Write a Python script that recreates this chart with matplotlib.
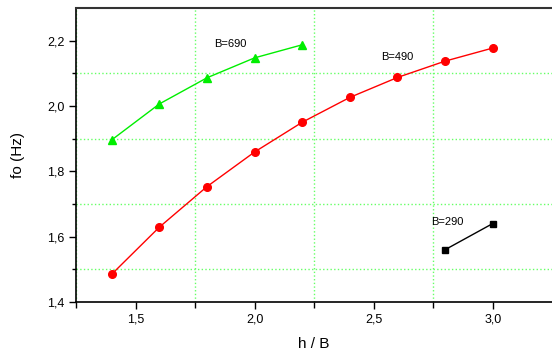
import matplotlib.pyplot as plt
from matplotlib.ticker import MultipleLocator, FuncFormatter

# series
hb_690 = [1.4, 1.6, 1.8, 2.0, 2.2]
fo_690 = [1.896, 2.006, 2.086, 2.147, 2.187]

hb_490 = [1.4, 1.6, 1.8, 2.0, 2.2, 2.4, 2.6, 2.8, 3.0]
fo_490 = [1.485, 1.629, 1.753, 1.859, 1.950, 2.026, 2.087, 2.137, 2.177]

hb_290 = [2.8, 3.0]
fo_290 = [1.560, 1.640]

plt.rcParams['font.family'] = ['Liberation Sans', 'DejaVu Sans']

fig = plt.figure(figsize=(5.52, 3.54), dpi=100)
ax = fig.add_axes([0.1377, 0.1469, 0.8623, 0.8300])

ax.plot(hb_690, fo_690, '-', color='#00ee00', lw=1, marker='^', ms=6,
        mfc='#00ee00', mec='#00ee00')
ax.plot(hb_490, fo_490, '-', color='red', lw=1, marker='o', ms=5.5,
        mfc='red', mec='red')
ax.plot(hb_290, fo_290, '-', color='black', lw=1, marker='s', ms=4.5,
        mfc='black', mec='black')

ax.text(1.897, 2.19, 'B=690', fontsize=8, ha='center', va='center')
ax.text(2.60, 2.149, 'B=490', fontsize=8, ha='center', va='center')
ax.text(2.81, 1.646, 'B=290', fontsize=8, ha='center', va='center')

ax.set_xlim(1.25, 3.249)
ax.set_ylim(1.4, 2.299)

ax.xaxis.set_major_locator(MultipleLocator(0.5))
ax.xaxis.set_minor_locator(MultipleLocator(0.25))
ax.yaxis.set_major_locator(MultipleLocator(0.2))
ax.yaxis.set_minor_locator(MultipleLocator(0.1))

comma = FuncFormatter(lambda v, p: f'{v:.1f}'.replace('.', ','))
ax.xaxis.set_major_formatter(comma)
ax.yaxis.set_major_formatter(comma)

ax.grid(which='minor', color='#66ff66', linestyle=':', lw=1)
ax.grid(which='major', visible=False)

ax.tick_params(which='both', direction='out', length=5, width=1, labelsize=9)
ax.tick_params(axis='y', which='minor', length=3)
ax.tick_params(axis='x', which='minor', length=4)

for s in ['left', 'bottom']:
    ax.spines[s].set_linewidth(1.2)
ax.spines['top'].set_linewidth(1.5)
ax.spines['top'].set_color('#333333')
ax.spines['right'].set_visible(False)

ax.set_xlabel('h / B', fontsize=11, labelpad=8)
ax.set_ylabel('fo (Hz)', fontsize=11, labelpad=16)

fig.savefig('out.png', dpi=100)
